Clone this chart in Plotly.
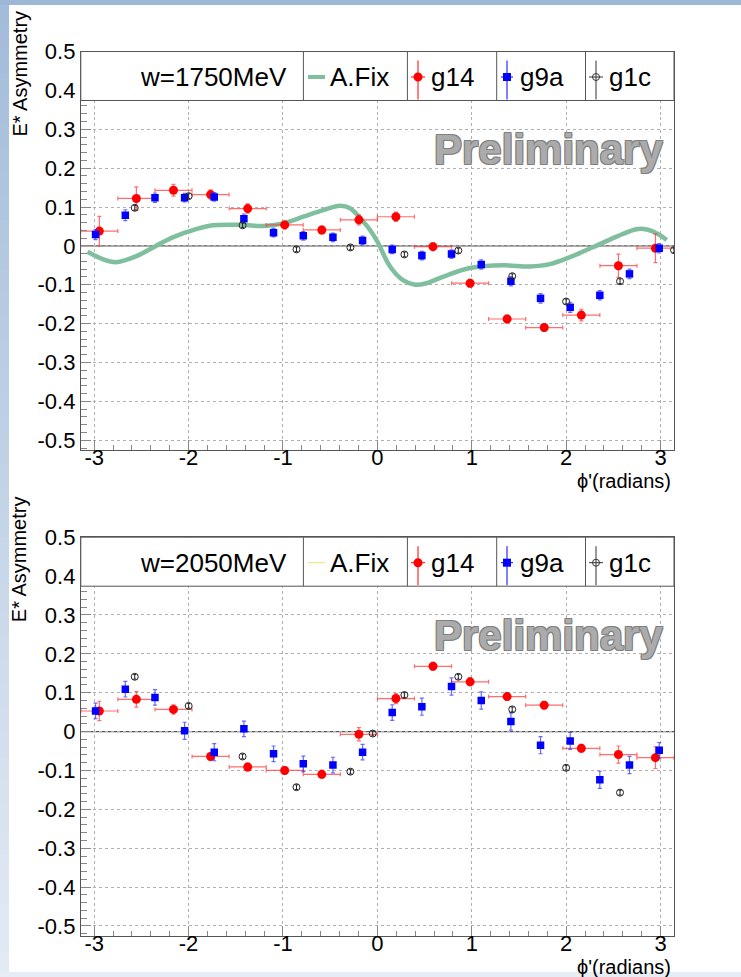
import math
import plotly.graph_objects as go

# ---------------- data ----------------
# bin centres (radians)
g14_phi = [-2.945, -2.553, -2.160, -1.767, -1.374, -0.982, -0.589, -0.196,
           0.196, 0.589, 0.982, 1.374, 1.767, 2.160, 2.553, 2.945]
g14_dphi = [0.196] * 16
g9a_phi = [-2.985, -2.670, -2.356, -2.042, -1.728, -1.414, -1.100, -0.785, -0.471, -0.157,
           0.157, 0.471, 0.785, 1.100, 1.414, 1.728, 2.042, 2.356, 2.670, 2.985]

# W = 1750 MeV
g14_1750 = [0.038, 0.122, 0.143, 0.132, 0.096, 0.054, 0.041, 0.067,
            0.075, -0.002, -0.096, -0.188, -0.210, -0.178, -0.051, -0.006]
g14_1750_err = [0.038, 0.030, 0.015, 0.012, 0.012, 0.010, 0.010, 0.013,
                0.012, 0.010, 0.010, 0.010, 0.010, 0.015, 0.030, 0.037]
g9a_1750 = [0.029, 0.079, 0.124, 0.124, 0.126, 0.070, 0.034, 0.026, 0.022, 0.014,
            -0.009, -0.025, -0.021, -0.048, -0.091, -0.135, -0.158, -0.127, -0.072, -0.006]
g9a_1750_err = [0.013, 0.014, 0.012, 0.011, 0.011, 0.012, 0.011, 0.011, 0.011, 0.011,
                0.011, 0.011, 0.011, 0.012, 0.012, 0.012, 0.013, 0.012, 0.012, 0.012]
g1c_1750_phi = [-2.570, -1.999, -1.428, -0.857, -0.286, 0.286, 0.857, 1.428, 1.999, 2.570, 3.142]
g1c_1750 = [0.098, 0.128, 0.053, -0.009, -0.004, -0.022, -0.012, -0.078, -0.143, -0.091, -0.011]
g1c_1750_err = [0.006] * 11
afix_phi = [-3.07, -2.91, -2.77, -2.557, -2.345, -2.168, -1.92, -1.743, -1.424, -1.21,
            -1.0, -0.786, -0.574, -0.397, -0.29, -0.149, -0.078, 0.0, 0.134, 0.275,
            0.40, 0.52, 0.70, 0.98, 1.334, 1.617, 1.828, 2.04, 2.287, 2.534,
            2.746, 2.852, 2.99, 3.064]
afix_1750 = [-0.015, -0.034, -0.042, -0.027, 0.0, 0.022, 0.043, 0.053, 0.054, 0.051,
             0.058, 0.075, 0.092, 0.103, 0.097, 0.062, 0.041, 0.011, -0.053, -0.089,
             -0.100, -0.096, -0.079, -0.057, -0.050, -0.053, -0.047, -0.029, -0.003, 0.024,
             0.043, 0.042, 0.028, 0.015]

# W = 2050 MeV
g14_2050 = [0.053, 0.083, 0.057, -0.064, -0.091, -0.100, -0.110, -0.007,
            0.085, 0.168, 0.128, 0.090, 0.068, -0.043, -0.059, -0.067]
g14_2050_err = [0.025, 0.020, 0.012, 0.010, 0.010, 0.010, 0.010, 0.017,
                0.013, 0.010, 0.010, 0.010, 0.010, 0.010, 0.022, 0.028]
g9a_2050 = [0.053, 0.109, 0.088, 0.002, -0.053, 0.007, -0.057, -0.083, -0.086, -0.053,
            0.049, 0.064, 0.116, 0.080, 0.026, -0.035, -0.024, -0.124, -0.086, -0.048]
g9a_2050_err = [0.020, 0.020, 0.020, 0.022, 0.022, 0.020, 0.020, 0.020, 0.020, 0.020,
                0.020, 0.022, 0.022, 0.022, 0.022, 0.022, 0.022, 0.022, 0.022, 0.020]
g1c_2050_phi = [-2.570, -1.999, -1.428, -0.857, -0.286, -0.05, 0.286, 0.857, 1.428, 1.999, 2.570]
g1c_2050 = [0.141, 0.066, -0.064, -0.143, -0.103, -0.005, 0.094, 0.141, 0.057, -0.093, -0.157]
g1c_2050_err = [0.006] * 11

y_ticks = [-0.5, -0.4, -0.3, -0.2, -0.1, 0, 0.1, 0.2, 0.3, 0.4, 0.5]
y_labels = ["-0.5", "-0.4", "-0.3", "-0.2", "-0.1", "0", "0.1", "0.2", "0.3", "0.4", "0.5"]
x_ticks = [-3, -2, -1, 0, 1, 2, 3]
x_labels = ["-3", "-2", "-1", "0", "1", "2", "3"]

# ---------------- layout helpers ----------------
W, H = 741, 977
FONT = "Liberation Sans, Arial, Helvetica, sans-serif"


def px(x):
    return x / W


def py(y):
    return 1 - y / H


FRAME_L, FRAME_R = 80.8, 674.0
PANELS = [
    # frame top / bottom in pixels, energy label, A.Fix legend line style
    dict(top=51.5, bot=450.0, label="w=1750MeV", fix_col="#7fbf9e", fix_w=4),
    dict(top=537.2, bot=935.7, label="w=2050MeV", fix_col="#e6e66a", fix_w=1),
]
YR = [-0.525, 0.5]

RED = "#ff0000"
RED_ERR = "rgba(255,60,60,0.75)"
BLUE = "#0000ff"
BLUE_ERR = "rgba(40,40,255,0.7)"

fig = go.Figure()


def add_panel(i, g14_y, g14_e, g9a_y, g9a_e, g1c_x, g1c_y, g1c_e, fix_x=None, fix_y=None):
    xa = "x" if i == 0 else "x2"
    ya = "y" if i == 0 else "y2"
    if fix_x is not None:
        fig.add_trace(go.Scatter(
            x=fix_x, y=fix_y, mode="lines",
            line=dict(color="#7fbf9e", width=4.5, shape="spline", smoothing=1.0),
            xaxis=xa, yaxis=ya, showlegend=False, hoverinfo="skip"))
    fig.add_trace(go.Scatter(
        x=g14_phi, y=g14_y, mode="markers",
        marker=dict(symbol="circle", size=9, color=RED),
        error_x=dict(type="data", array=g14_dphi, color=RED_ERR, thickness=1.2, width=2),
        error_y=dict(type="data", array=g14_e, color=RED_ERR, thickness=1.2, width=2),
        xaxis=xa, yaxis=ya, showlegend=False))
    fig.add_trace(go.Scatter(
        x=g9a_phi, y=g9a_y, mode="markers",
        marker=dict(symbol="square", size=7.5, color=BLUE),
        error_y=dict(type="data", array=g9a_e, color=BLUE_ERR, thickness=1.2, width=2),
        xaxis=xa, yaxis=ya, showlegend=False))
    fig.add_trace(go.Scatter(
        x=g1c_x, y=g1c_y, mode="markers",
        marker=dict(symbol="circle-open", size=7, color="#222222", line=dict(width=1)),
        error_y=dict(type="data", array=g1c_e, color="#222222", thickness=1, width=1.5),
        xaxis=xa, yaxis=ya, showlegend=False))


add_panel(0, g14_1750, g14_1750_err, g9a_1750, g9a_1750_err,
          g1c_1750_phi, g1c_1750, g1c_1750_err, afix_phi, afix_1750)
add_panel(1, g14_2050, g14_2050_err, g9a_2050, g9a_2050_err,
          g1c_2050_phi, g1c_2050, g1c_2050_err)

axis_common = dict(
    automargin=False,
    showline=True, linecolor="#555555", linewidth=1, mirror=True,
    showgrid=True, gridcolor="#b0b0b0", griddash="dot", gridwidth=1,
    zeroline=False, ticks="inside", tickcolor="#888888", tickwidth=1,
    tickfont=dict(family=FONT, size=22, color="#000000"),
)

layout_axes = {}
for i, p in enumerate(PANELS):
    sfx = "" if i == 0 else "2"
    dom_y = [py(p["bot"]), py(p["top"])]
    layout_axes["xaxis" + sfx] = dict(
        axis_common, domain=[px(FRAME_L), px(FRAME_R)], range=[-math.pi, math.pi],
        anchor="y" + sfx, tickvals=x_ticks, ticktext=x_labels, ticklen=10,
        ticklabelstandoff=-12,
        minor=dict(ticks="inside", ticklen=5, tickcolor="#888888", dtick=0.2, tick0=0, showgrid=False),
    )
    layout_axes["yaxis" + sfx] = dict(
        axis_common, domain=dom_y, range=YR, anchor="x" + sfx,
        tickvals=y_ticks, ticktext=y_labels, ticklen=10,
        minor=dict(ticks="inside", ticklen=6, tickcolor="#888888", dtick=0.02, tick0=0, showgrid=False),
    )

shapes = []
annotations = []

# slide-style frame around the page: a soft blue strip down the left edge
n_bands = 40
c_top, c_bot = (163, 188, 218), (226, 234, 244)
for k in range(n_bands):
    f = k / (n_bands - 1)
    col = "rgb(%d,%d,%d)" % tuple(round(a + (b - a) * f) for a, b in zip(c_top, c_bot))
    y0 = k * H / n_bands
    y1 = (k + 1) * H / n_bands + 1
    shapes.append(dict(type="rect", xref="paper", yref="paper", x0=0, x1=px(9),
                       y0=py(min(y1, H)), y1=py(y0), fillcolor=col, line=dict(width=0), layer="below"))
shapes.append(dict(type="rect", xref="paper", yref="paper", x0=0, x1=1,
                   y0=py(5), y1=1, fillcolor="#9db7d6", line=dict(width=0), layer="below"))
shapes.append(dict(type="rect", xref="paper", yref="paper", x0=0, x1=1,
                   y0=0, y1=py(972), fillcolor="#e6edf5", line=dict(width=0), layer="below"))

for i, p in enumerate(PANELS):
    xa = "x" if i == 0 else "x2"
    ya = "y" if i == 0 else "y2"
    # horizontal line at zero
    shapes.append(dict(type="line", xref=xa, yref=ya, x0=-math.pi, x1=math.pi, y0=0, y1=0,
                       line=dict(color="#555555", width=1.2), layer="below"))

    # legend box across the top of the frame
    top = p["top"]
    bot = top + 49
    mid = top + 25.5
    shapes.append(dict(type="rect", xref="paper", yref="paper", x0=px(FRAME_L), x1=px(FRAME_R),
                       y0=py(bot), y1=py(top), fillcolor="white",
                       line=dict(color="#555555", width=1), layer="above"))
    for xd in [303.4, 407.4, 496.7, 585.5]:
        shapes.append(dict(type="line", xref="paper", yref="paper", x0=px(xd), x1=px(xd),
                           y0=py(bot), y1=py(top), line=dict(color="#555555", width=1), layer="above"))

    def txt(x, s, anchor="left"):
        annotations.append(dict(xref="paper", yref="paper", x=px(x), y=py(mid), text=s,
                                showarrow=False, xanchor=anchor, yanchor="middle",
                                font=dict(family=FONT, size=26, color="#000000")))

    txt(289, p["label"], "right")
    # A.Fix
    shapes.append(dict(type="line", xref="paper", yref="paper", x0=px(308), x1=px(325),
                       y0=py(mid), y1=py(mid), line=dict(color=p["fix_col"], width=p["fix_w"]),
                       layer="above"))
    txt(328, "A.Fix")
    # g14
    cx = 418
    shapes.append(dict(type="line", xref="paper", yref="paper", x0=px(cx), x1=px(cx),
                       y0=py(bot - 1), y1=py(top + 9), line=dict(color=RED, width=1), layer="above"))
    shapes.append(dict(type="line", xref="paper", yref="paper", x0=px(cx - 7), x1=px(cx + 7),
                       y0=py(mid), y1=py(mid), line=dict(color=RED, width=1), layer="above"))
    shapes.append(dict(type="circle", xref="paper", yref="paper", x0=px(cx - 4.5), x1=px(cx + 4.5),
                       y0=py(mid + 4.5), y1=py(mid - 4.5), fillcolor=RED, line=dict(color=RED, width=0),
                       layer="above"))
    txt(429, "g14")
    # g9a
    cx = 507
    shapes.append(dict(type="line", xref="paper", yref="paper", x0=px(cx), x1=px(cx),
                       y0=py(bot - 1), y1=py(top + 9), line=dict(color=BLUE, width=1), layer="above"))
    shapes.append(dict(type="line", xref="paper", yref="paper", x0=px(cx - 6), x1=px(cx + 6),
                       y0=py(mid), y1=py(mid), line=dict(color=BLUE, width=1), layer="above"))
    shapes.append(dict(type="rect", xref="paper", yref="paper", x0=px(cx - 4), x1=px(cx + 4),
                       y0=py(mid + 4), y1=py(mid - 4), fillcolor=BLUE, line=dict(width=0), layer="above"))
    txt(518, "g9a")
    # g1c
    cx = 596
    shapes.append(dict(type="line", xref="paper", yref="paper", x0=px(cx), x1=px(cx),
                       y0=py(bot - 1), y1=py(top + 9), line=dict(color="#333333", width=1), layer="above"))
    shapes.append(dict(type="line", xref="paper", yref="paper", x0=px(cx - 7), x1=px(cx + 7),
                       y0=py(mid), y1=py(mid), line=dict(color="#333333", width=1), layer="above"))
    shapes.append(dict(type="circle", xref="paper", yref="paper", x0=px(cx - 3.5), x1=px(cx + 3.5),
                       y0=py(mid + 3.5), y1=py(mid - 3.5), fillcolor="rgba(0,0,0,0)",
                       line=dict(color="#333333", width=1), layer="above"))
    txt(607, "g1c")

    # watermark
    annotations.append(dict(xref="paper", yref="paper", x=px(548), y=py(top + 98), text="<b>Preliminary</b>",
                            showarrow=False, xanchor="center", yanchor="middle",
                            font=dict(family=FONT, size=42, color="#ababab",
                                      shadow="-1px -1px 0 #808080, 1px -1px 0 #808080, -1px 1px 0 #808080, 1px 1px 0 #808080")))
    # axis titles
    annotations.append(dict(xref="paper", yref="paper", x=px(19), y=py(top + 22), text="E* Asymmetry",
                            showarrow=False, textangle=-90, xanchor="center", yanchor="middle",
                            font=dict(family=FONT, size=20, color="#000000")))
    annotations.append(dict(xref="paper", yref="paper", x=px(673), y=py(p["bot"] + 31), text="ϕ'(radians)",
                            showarrow=False, xanchor="right", yanchor="middle",
                            font=dict(family=FONT, size=20, color="#000000")))

fig.update_layout(
    width=W, height=H, margin=dict(l=0, r=0, t=0, b=0, pad=0, autoexpand=False),
    paper_bgcolor="white", plot_bgcolor="white",
    showlegend=False, shapes=shapes, annotations=annotations,
    **layout_axes,
)

fig.write_html("out.html")
